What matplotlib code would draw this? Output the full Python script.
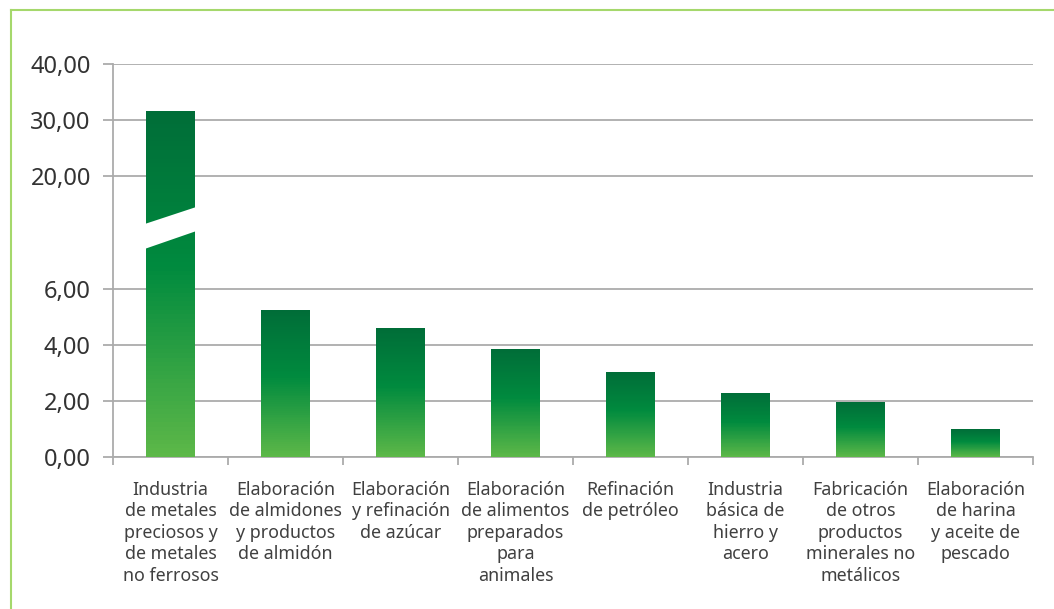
import numpy as np
import matplotlib
matplotlib.use("Agg")
import matplotlib.pyplot as plt
from matplotlib.colors import LinearSegmentedColormap
from matplotlib.lines import Line2D

categories = [
    "Industria\nde metales\npreciosos y\nde metales\nno ferrosos",
    "Elaboración\nde almidones\ny productos\nde almidón",
    "Elaboración\ny refinación\nde azúcar",
    "Elaboración\nde alimentos\npreparados\npara\nanimales",
    "Refinación\nde petróleo",
    "Industria\nbásica de\nhierro y\nacero",
    "Fabricación\nde otros\nproductos\nminerales no\nmetálicos",
    "Elaboración\nde harina\ny aceite de\npescado",
]
values = [31.6, 5.25, 4.61, 3.86, 3.04, 2.29, 1.96, 1.0]
ytick_values = [0, 2, 4, 6, 20, 30, 40]
ytick_labels = ["0,00", "2,00", "4,00", "6,00", "20,00", "30,00", "40,00"]

# broken-axis piecewise scale (data knots -> display units)
Y_KNOTS = [0, 6, 20, 40]
T_KNOTS = [0, 6, 6 + 113 / 28, 6 + 113 / 28 + 4]

def fwd(y):
    return np.interp(y, Y_KNOTS, T_KNOTS)

def inv(t):
    return np.interp(t, T_KNOTS, Y_KNOTS)

plt.rcParams['font.family'] = ['Noto Sans', 'DejaVu Sans']

fig = plt.figure(figsize=(10.54, 6.09), dpi=100)
ax = fig.add_axes([113 / 1054, (609 - 457) / 609, 920 / 1054, (457 - 64) / 609])
ax.set_yscale('function', functions=(fwd, inv))

cmap = LinearSegmentedColormap.from_list(
    'g', [(0, '#006d38'), (0.45, '#008a3e'), (1.0, '#5db848')])

n = len(values)
x = np.arange(n)
width = 0.43
nslices = 80
for xi, v in zip(x, values):
    tb = np.linspace(0, fwd(v), nslices + 1)
    yb = inv(tb)
    for k in range(nslices):
        frac = 1 - (k + 0.5) / nslices
        ax.bar(xi, yb[k + 1] - yb[k], bottom=yb[k], width=width,
               color=cmap(frac), linewidth=0, zorder=3)

# break marker on the tall bar
bx0 = x[0] - width / 2 - 0.01
bx1 = x[0] + width / 2 + 0.01
poly_t = [(bx0, 7.43), (bx0, 8.32), (bx1, 8.93), (bx1, 8.07)]
poly = [(px, float(inv(pt))) for px, pt in poly_t]
ax.add_patch(plt.Polygon(poly, closed=True, facecolor='white',
                         edgecolor='none', zorder=4))

ax.set_xlim(-0.5, n - 0.5)
ax.set_ylim(0, 40)

gray = '#ababab'
ax.set_yticks(ytick_values)
ax.set_yticklabels(ytick_labels)
ax.grid(axis='y', color=gray, linewidth=1.3, zorder=0)
ax.tick_params(axis='y', length=7, width=1.3, color=gray, pad=9,
               labelsize=17, labelcolor='#333333')

ax.set_xticks(x)
ax.set_xticklabels(categories, fontsize=12.8, color='#404040',
                   linespacing=1.25)
ax.set_xticks(np.arange(n + 1) - 0.5, minor=True)
ax.tick_params(axis='x', which='major', length=0, pad=17)
ax.tick_params(axis='x', which='minor', length=6, width=1.3, color=gray)

for s in ['top', 'right']:
    ax.spines[s].set_visible(False)
for s in ['left', 'bottom']:
    ax.spines[s].set_color(gray)
    ax.spines[s].set_linewidth(1.3)

# figure frame (top and left)
fc = '#a5d86c'
fig.add_artist(Line2D([11 / 1054, 1.0], [1 - 10 / 609, 1 - 10 / 609],
                      transform=fig.transFigure, color=fc, linewidth=1.5))
fig.add_artist(Line2D([11 / 1054, 11 / 1054], [0, 1 - 10 / 609],
                      transform=fig.transFigure, color=fc, linewidth=1.5))

fig.savefig('out.png', dpi=100)
